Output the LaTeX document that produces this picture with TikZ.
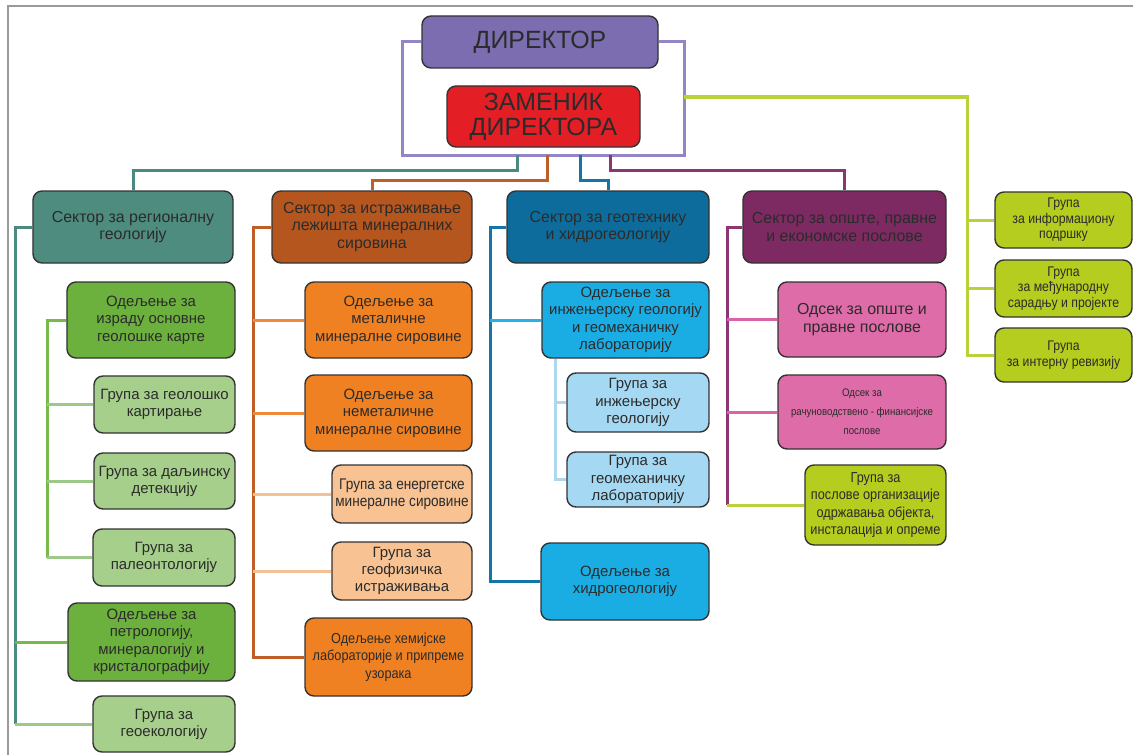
\documentclass[tikz,border=0pt]{standalone}
\usepackage{fontspec}
\setmainfont{Liberation Sans}
\newfontfamily\nsf[FakeStretch=0.88]{Liberation Sans}
\usetikzlibrary{backgrounds}
\definecolor{dirc}{HTML}{7B6DB0}
\definecolor{depc}{HTML}{E31E25}
\definecolor{frc}{HTML}{9485C6}
\definecolor{tealc}{HTML}{4E8C80}
\definecolor{tealln}{HTML}{4A8A80}
\definecolor{brownc}{HTML}{B5561F}
\definecolor{brownln}{HTML}{BE5E28}
\definecolor{bluec}{HTML}{0E6C9C}
\definecolor{blueln}{HTML}{1574A8}
\definecolor{magc}{HTML}{7D2A62}
\definecolor{magln}{HTML}{8B3572}
\definecolor{limec}{HTML}{B5CD1F}
\definecolor{limeln}{HTML}{BAD13C}
\definecolor{greenc}{HTML}{6CB03D}
\definecolor{greenln}{HTML}{78BA48}
\definecolor{lgreenc}{HTML}{A6CF8B}
\definecolor{lgreenln}{HTML}{9CC98A}
\definecolor{orangec}{HTML}{F08122}
\definecolor{orangeln}{HTML}{EF8A3A}
\definecolor{lorangec}{HTML}{F8C292}
\definecolor{lorangeln}{HTML}{F4C196}
\definecolor{cyanc}{HTML}{1AADE3}
\definecolor{cyanln}{HTML}{27B1E4}
\definecolor{lbluec}{HTML}{A5D8F2}
\definecolor{lblueln}{HTML}{ACD9EF}
\definecolor{pinkc}{HTML}{DE6CA9}
\definecolor{pinkln}{HTML}{D963A4}
\definecolor{boxdraw}{HTML}{333333}
\definecolor{txt}{HTML}{2B2B2B}
\definecolor{framec}{HTML}{9A9A9A}
\begin{document}
\begin{tikzpicture}[x=1bp,y=-1bp,
  box/.style={draw=boxdraw, line width=1.4bp, rounded corners=9bp, align=center, inner sep=1bp, text=txt},
  conn/.style={line width=3bp},
  fdir/.style={font=\fontsize{25}{28}\selectfont},
  fdep/.style={font=\fontsize{25}{25}\selectfont},
  fsec/.style={font=\fontsize{16}{17.5}\selectfont},
  fdept/.style={font=\fontsize{15}{17.5}\selectfont},
  fgrp/.style={font=\fontsize{15}{17}\selectfont},
  fnar/.style={font=\nsf\fontsize{14.5}{17.5}\selectfont},
  fnarbig/.style={font=\nsf\fontsize{15.5}{17.5}\selectfont},
  fsmall/.style={font=\nsf\fontsize{14}{15.5}\selectfont},
  ftiny/.style={font=\nsf\fontsize{11}{19}\selectfont},
]
\useasboundingbox (0,0) rectangle (1133,755);
\draw[framec, line width=1.3bp] (8,760) -- (8,6) -- (1140,6);

% top
\node[box, fill=dirc, minimum width=236bp, minimum height=52bp, fdir] (dir) at (540,42) {ДИРЕКТОР};
\node[box, fill=depc, minimum width=193bp, minimum height=61bp, fdep] (dep) at (543.5,116.5) {ЗАМЕНИК\\ДИРЕКТОРА};

% right groups
\node[box, fill=limec, minimum width=137bp, minimum height=56bp, fsmall] (g1) at (1063.5,220) {Група\\за информациону\\подршку};
\node[box, fill=limec, minimum width=137bp, minimum height=57bp, fsmall] (g2) at (1063.5,288.5) {Група\\за међународну\\сарадњу и пројекте};
\node[box, fill=limec, minimum width=137bp, minimum height=54bp, fsmall] (g3) at (1063.5,355) {Група\\за интерну ревизију};

% sectors
\node[box, fill=tealc, minimum width=200bp, minimum height=72bp, fsec] (s1) at (133,227) {Сектор за регионалну\\геологију};
\node[box, fill=brownc, minimum width=200bp, minimum height=72bp, fsec] (s2) at (372,227) {Сектор за истраживање\\лежишта минералних\\сировина};
\node[box, fill=bluec, minimum width=202bp, minimum height=72bp, fsec] (s3) at (608,227) {Сектор за геотехнику\\и хидрогеологију};
\node[box, fill=magc, minimum width=203bp, minimum height=72bp, fsec] (s4) at (844.5,227) {Сектор за опште, правне\\и економске послове};

% column 1
\node[box, fill=greenc, minimum width=168bp, minimum height=76bp, fdept] (d1) at (151,320) {Одељење за\\израду основне\\геолошке карте};
\node[box, fill=lgreenc, minimum width=141bp, minimum height=57bp, fgrp] (gk) at (164.5,404.5) {Група за геолошко\\картирање};
\node[box, fill=lgreenc, minimum width=141bp, minimum height=56bp, fgrp] (gd) at (164.5,481) {Група за даљинску\\детекцију};
\node[box, fill=lgreenc, minimum width=142bp, minimum height=57bp, fgrp] (gp) at (164,557.5) {Група за\\палеонтологију};
\node[box, fill=greenc, minimum width=167bp, minimum height=78bp, fdept] (petro) at (151.5,642) {Одељење за\\петрологију,\\минералогију и\\кристалографију};
\node[box, fill=lgreenc, minimum width=142bp, minimum height=56bp, fgrp] (geo) at (164,724) {Група за\\геоекологију};

% column 2
\node[box, fill=orangec, minimum width=167bp, minimum height=76bp, fdept] (m1) at (388.5,320) {Одељење за\\металичне\\минералне сировине};
\node[box, fill=orangec, minimum width=167bp, minimum height=76bp, fdept] (m2) at (388.5,413) {Одељење за\\неметаличне\\минералне сировине};
\node[box, fill=lorangec, minimum width=140bp, minimum height=58bp, fnarbig] (e1) at (402,494) {Група за енергетске\\минералне сировине};
\node[box, fill=lorangec, minimum width=140bp, minimum height=58bp, fgrp] (e2) at (402,571) {Група за\\геофизичка\\истраживања};
\node[box, fill=orangec, minimum width=167bp, minimum height=78bp, fnar] (chem) at (388.5,657) {Одељење хемијске\\лабораторије и припреме\\узорака};

% column 3
\node[box, fill=cyanc, minimum width=167bp, minimum height=76bp, fdept] (ie) at (625.5,320) {Одељење за\\инжењерску геологију\\и геомеханичку\\лабораторију};
\node[box, fill=lbluec, minimum width=142bp, minimum height=59bp, fdept] (gi) at (638,402.5) {Група за\\инжењерску\\геологију};
\node[box, fill=lbluec, minimum width=142bp, minimum height=55bp, fdept] (gm) at (638,479.5) {Група за\\геомеханичку\\лабораторију};
\node[box, fill=cyanc, minimum width=168bp, minimum height=77bp, fdept] (hydro) at (625,581.5) {Одељење за\\хидрогеологију};

% column 4
\node[box, fill=pinkc, minimum width=168bp, minimum height=75bp, fsec] (od1) at (862,319.5) {Одсек за опште и\\правне послове};
\node[box, fill=pinkc, minimum width=168bp, minimum height=74bp, ftiny] (od2) at (862,412) {Одсек за\\рачуноводствено - финансијске\\послове};
\node[box, fill=limec, minimum width=141bp, minimum height=80bp, fnar] (gpo) at (875.5,505) {Група за\\послове организације\\одржавања објекта,\\инсталација и опреме};

\coordinate (fbl) at (402,155);
\coordinate (ftr) at (684,42);
\coordinate (ls) at (684,97);
\coordinate (lv) at (967,97);
\coordinate (ta) at (517,155);
\coordinate (tb) at (517,170);
\coordinate (oa) at (547,155);
\coordinate (ob) at (547,180);
\coordinate (ba) at (580,155);
\coordinate (bb) at (580,180);
\coordinate (ma) at (610,155);
\coordinate (mb) at (610,170);
\coordinate (tv) at (15,0);
\coordinate (gv) at (47,0);
\coordinate (ov) at (253,0);
\coordinate (bv) at (490,0);
\coordinate (lbv) at (555,0);
\coordinate (mv) at (727,0);

\begin{pgfonlayer}{background}
\draw[conn, frc] (dir.west) -| (fbl) -| (ftr) -- (dir.east);
\draw[conn, limeln] (ls) -- (lv) |- (g3.west);
\draw[conn, limeln] (lv |- g1.west) -- (g1.west);
\draw[conn, limeln] (lv |- g2.west) -- (g2.west);
\draw[conn, tealln] (ta) -- (tb) -| (s1.north);
\draw[conn, brownln] (oa) -- (ob) -| (s2.north);
\draw[conn, blueln] (ba) -- (bb) -| (s3.north);
\draw[conn, magln] (ma) -- (mb) -| (s4.north);
% column 1
\draw[conn, tealln] (s1.west) -| (tv |- geo.west);
\draw[conn, lgreenln] (tv |- geo.west) -- (geo.west);
\draw[conn, greenln] (tv |- petro.west) -- (petro.west);
\draw[conn, greenln] (d1.west) -| (gv |- gp.west);
\draw[conn, lgreenln] (gv |- gk.west) -- (gk.west);
\draw[conn, lgreenln] (gv |- gd.west) -- (gd.west);
\draw[conn, lgreenln] (gv |- gp.west) -- (gp.west);
% column 2
\draw[conn, brownln] (s2.west) -| (ov |- chem.west) -- (chem.west);
\draw[conn, orangeln] (ov |- m1.west) -- (m1.west);
\draw[conn, orangeln] (ov |- m2.west) -- (m2.west);
\draw[conn, lorangeln] (ov |- e1.west) -- (e1.west);
\draw[conn, lorangeln] (ov |- e2.west) -- (e2.west);
% column 3
\draw[conn, blueln] (s3.west) -| (bv |- hydro.west) -- (hydro.west);
\draw[conn, cyanln] (bv |- ie.west) -- (ie.west);
\draw[conn, lblueln] (lbv |- ie.south) |- (gm.west);
\draw[conn, lblueln] (lbv |- gi.west) -- (gi.west);
% column 4
\draw[conn, magln] (s4.west) -| (mv |- gpo.west);
\draw[conn, limeln] (mv |- gpo.west) -- (gpo.west);
\draw[conn, pinkln] (mv |- od1.west) -- (od1.west);
\draw[conn, pinkln] (mv |- od2.west) -- (od2.west);
\end{pgfonlayer}
\end{tikzpicture}
\end{document}
